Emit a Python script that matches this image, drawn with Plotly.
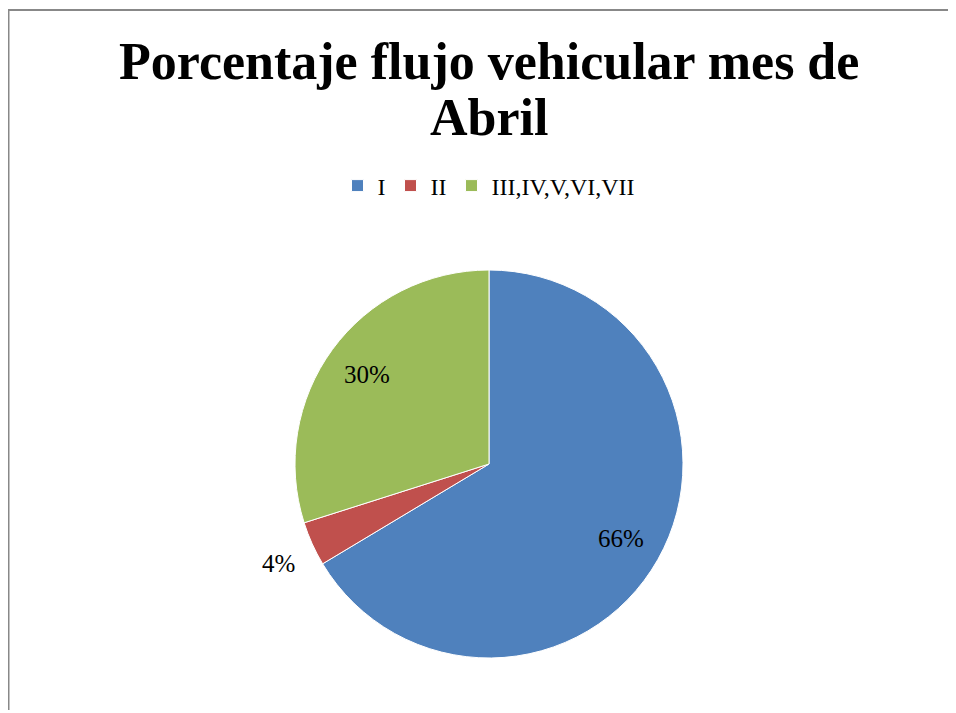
import math
import plotly.graph_objects as go

categories = ["I", "II", "III,IV,V,VI,VII"]
values = [66.4, 3.7, 29.9]
colors = ["#4F81BD", "#C0504D", "#9BBB59"]
label_inside = [True, False, True]
title_lines = ["Porcentaje flujo vehicular mes de", "Abril"]

# figure sits at an 8px page offset; size chosen so it reaches the window edges
W, H = 948, 702
cx, cy, r = 481, 456, 194

fig = go.Figure(go.Pie(
    labels=categories,
    values=values,
    marker=dict(colors=colors, line=dict(color="white", width=1)),
    sort=False,
    direction="clockwise",
    rotation=0,
    textinfo="none",
    hoverinfo="label+percent",
    domain=dict(x=[(cx - r) / W, (cx + r) / W], y=[1 - (cy + r) / H, 1 - (cy - r) / H]),
    showlegend=True,
))

# percentage labels placed from the slice mid-angles
total = sum(values)
annotations = []
cum = 0.0
for v, inside in zip(values, label_inside):
    frac = v / total
    mid = (cum + frac / 2) * 2 * math.pi
    cum += frac
    rf = 0.78 if inside else 1.19
    px = cx + rf * r * math.sin(mid)
    py = cy - rf * r * math.cos(mid) + (0 if inside else 4)
    annotations.append(dict(
        x=px / W, y=1 - py / H, xref="paper", yref="paper",
        text=f"{round(frac * 100)}%", showarrow=False,
        xanchor="center", yanchor="middle",
        font=dict(family="Liberation Serif", size=25, color="black"),
    ))

title_y = [54, 110]
for line, ty in zip(title_lines, title_y):
    annotations.append(dict(
        x=481 / W, y=1 - ty / H, xref="paper", yref="paper",
        text=f"<b>{line}</b>", showarrow=False,
        xanchor="center", yanchor="middle",
        font=dict(family="Liberation Serif", size=52, color="black"),
    ))

fig.update_layout(
    width=W, height=H,
    margin=dict(l=0, r=0, t=0, b=0),
    paper_bgcolor="white",
    plot_bgcolor="white",
    legend=dict(
        orientation="h",
        x=481 / W, xanchor="center",
        y=1 - 178 / H, yanchor="middle",
        font=dict(family="Liberation Serif", size=24, color="black"),
        itemwidth=30,
    ),
    annotations=annotations,
    shapes=[
        dict(type="line", xref="paper", yref="paper", x0=0, x1=1.0, y0=1 - 2 / H, y1=1 - 2 / H,
             line=dict(color="#888888", width=2)),
        dict(type="line", xref="paper", yref="paper", x0=0.5 / W, x1=0.5 / W, y0=1 - 1 / H, y1=0,
             line=dict(color="#888888", width=2)),
    ],
)

fig.write_html("out.html")
